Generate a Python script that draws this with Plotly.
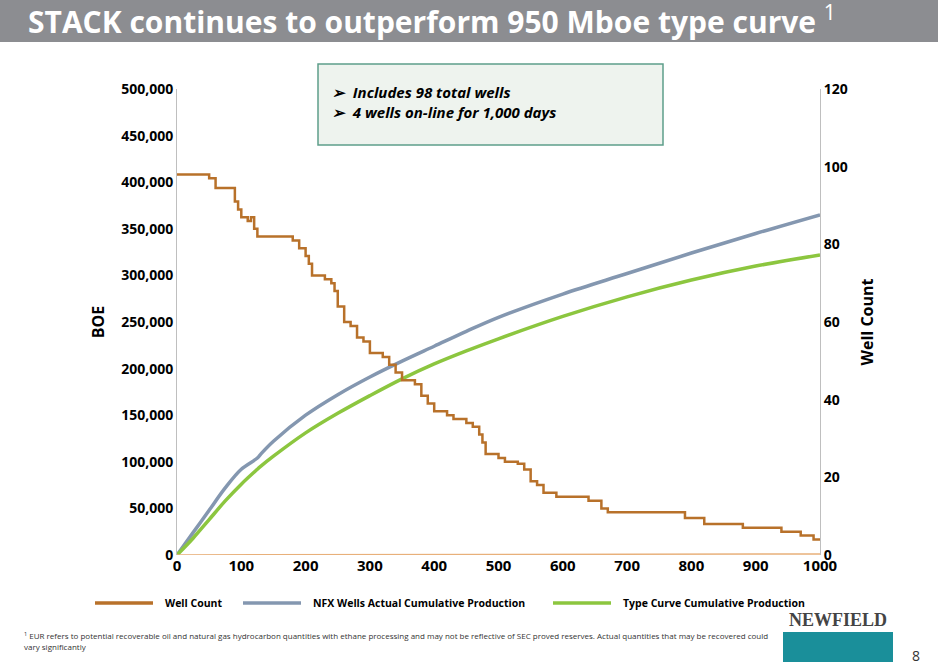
import plotly.graph_objects as go

wc_days = [0,45,50,60,80,90,95,100,110,115,120,125,175,180,190,200,205,210,225,230,240,245,250,260,270,280,290,300,320,330,340,350,370,380,390,400,420,430,450,460,470,475,480,500,510,530,540,550,560,570,590,620,640,660,670,780,790,810,820,850,880,930,940,960,970,990,1000]
wc_vals = [98,98,97,94.5,94.5,91,89,87,86,87,84,82,82,81,79,77,75,72,72,71,70,68,64,60,59,56,55,52,51,49,47,45,44,41,39,37,36,35,34,33,31,29,26,25,24,23.5,22,19,18,16,15,15,14,12,11,11,9.5,9.5,8,8,7,7,6,6,5,4,4]
cum_days = [0,25,50,75,100,125,130,150,200,250,300,350,400,450,500,600,700,800,900,1000]
nfx_vals = [0,24000,48000,72000,92000,104000,108000,122000,150000,172000,191000,208000,224000,240000,255000,280000,302000,324000,345000,365000]
tc_vals = [0,18000,38000,58000,76000,92000,95000,106000,131000,152000,171000,189000,205000,219000,232000,256000,277000,295000,310000,322000]
base_days = [0,1000]
base_vals = [0,1200]
series_names = ["Well Count", "NFX Wells Actual Cumulative Production", "Type Curve Cumulative Production"]
series_colors = ["#B8712A", "#8497B0", "#8CC63F"]

fig = go.Figure()
fig.add_trace(go.Scatter(x=wc_days, y=wc_vals, name=series_names[0], mode="lines",
    line=dict(color=series_colors[0], width=2.5, shape="hv"), yaxis="y2"))
fig.add_trace(go.Scatter(x=cum_days, y=nfx_vals, name=series_names[1],
    mode="lines", line=dict(color=series_colors[1], width=3.5, shape="spline")))
fig.add_trace(go.Scatter(x=cum_days, y=tc_vals, name=series_names[2],
    mode="lines", line=dict(color=series_colors[2], width=3.5, shape="spline")))
fig.add_trace(go.Scatter(x=base_days, y=base_vals, showlegend=False, mode="lines",
    line=dict(color="#E8B07A", width=1.5)))

W, H = 643, 466
def px(x): return (x-177)/W
def py(y): return (555-y)/H

bold = dict(family="Open Sans", size=14, color="black", weight="bold")
fig.update_layout(
    width=938, height=666, margin=dict(l=177, r=118, t=89, b=111, autoexpand=False),
    plot_bgcolor="white", paper_bgcolor="white",
    font=dict(family="Open Sans", color="black"),
    xaxis=dict(range=[0,1000], dtick=100, showgrid=False, zeroline=False,
               ticks="", tickfont=dict(bold, size=15), showline=False),
    yaxis=dict(range=[0,500000], dtick=50000, tickformat=",", showgrid=False, zeroline=False,
               showline=True, linecolor="#BFBFBF", ticks="", tickfont=bold,
               title=dict(text="<b>BOE</b>", font=dict(size=16), standoff=12)),
    yaxis2=dict(range=[0,120], dtick=20, overlaying="y", side="right", showgrid=False,
                zeroline=False, showline=True, linecolor="#BFBFBF", ticks="", tickfont=bold,
                title=dict(text="<b>Well Count</b>", font=dict(size=16), standoff=14)),
    showlegend=False,
)

# manual legend
leg_x = [95, 243, 553]
for name, col, lx in zip(series_names, series_colors, leg_x):
    fig.add_shape(type="line", xref="paper", yref="paper", x0=px(lx), x1=px(lx+58),
                  y0=py(603), y1=py(603), line=dict(color=col, width=3.5))
    fig.add_annotation(xref="paper", yref="paper", x=px(lx+68), y=py(603),
        xanchor="left", yanchor="middle", showarrow=False, text="<b>"+name+"</b>",
        font=dict(size=10.5, color="black"))

fig.add_shape(type="rect", xref="paper", yref="paper",
              x0=px(0), x1=px(938), y0=py(42), y1=py(0),
              fillcolor="#8C8D91", line_width=0)
fig.add_annotation(xref="paper", yref="paper", x=px(432), y=py(20),
    xanchor="center", yanchor="middle",
    text="<b>STACK continues to outperform 950 Mboe type curve</b> <sup>1</sup>",
    showarrow=False, font=dict(size=30, color="white", family="Open Sans"))
fig.add_shape(type="rect", xref="paper", yref="paper",
              x0=px(318), x1=px(663), y0=py(145), y1=py(64),
              fillcolor="#EEF3EE", line=dict(color="#5E9E8A", width=1.5))
fig.add_annotation(xref="paper", yref="paper", x=px(330), y=py(102),
    xanchor="left", yanchor="middle", align="left", showarrow=False,
    text="<b><i>➢  Includes 98 total wells<br>➢  4 wells on-line for 1,000 days</i></b>",
    font=dict(size=15, color="black"))
fig.add_annotation(xref="paper", yref="paper", x=px(22), y=py(641),
    xanchor="left", yanchor="middle", align="left", showarrow=False,
    text="<sup>1</sup> EUR refers to potential recoverable oil and natural gas hydrocarbon quantities with ethane processing and may not be reflective of SEC proved reserves. Actual quantities that may be recovered could<br>vary significantly",
    font=dict(size=8, color="#333"))
fig.add_annotation(xref="paper", yref="paper", x=px(838), y=py(620),
    xanchor="center", yanchor="middle",
    showarrow=False, text="<b>NEWFIELD</b>", font=dict(size=18, family="Liberation Serif", color="#444"))
fig.add_shape(type="rect", xref="paper", yref="paper",
              x0=px(783), x1=px(893), y0=py(662), y1=py(632),
              fillcolor="#1A8F9A", line_width=0)
fig.add_annotation(xref="paper", yref="paper", x=px(916), y=py(655),
    xanchor="center", yanchor="middle",
    showarrow=False, text="8", font=dict(size=14, color="#333"))

fig.write_html("out.html", config={"displayModeBar": False},
               post_script="document.body.style.margin='0';document.body.style.padding='0';")
